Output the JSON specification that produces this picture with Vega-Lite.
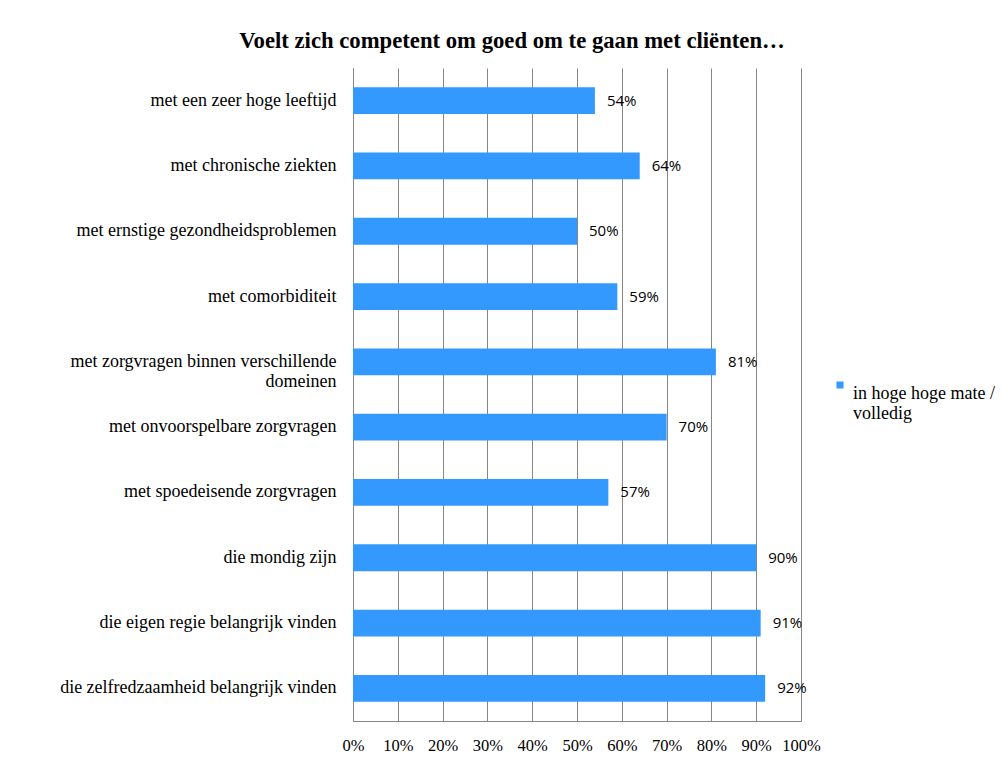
{
  "$schema": "https://vega.github.io/schema/vega-lite/v6.json",
  "autosize": {"type": "none"},
  "width": 448,
  "height": 653,
  "padding": {"left": 353, "top": 68, "right": 201, "bottom": 37},
  "background": "white",
  "title": {
    "text": "Voelt zich competent om goed om te gaan met cliënten…",
    "font": "Liberation Serif",
    "fontSize": 22.7,
    "fontWeight": "bold",
    "color": "#000000",
    "anchor": "middle",
    "frame": "group",
    "dx": -65,
    "offset": 15
  },
  "data": {
    "values": [
      {"item": "met een zeer hoge leeftijd", "pct": 0.54, "reeks": "in hoge hoge mate / volledig"},
      {"item": "met chronische ziekten", "pct": 0.64, "reeks": "in hoge hoge mate / volledig"},
      {"item": "met ernstige gezondheidsproblemen", "pct": 0.50, "reeks": "in hoge hoge mate / volledig"},
      {"item": "met comorbiditeit", "pct": 0.59, "reeks": "in hoge hoge mate / volledig"},
      {"item": "met zorgvragen binnen verschillende|domeinen", "pct": 0.81, "reeks": "in hoge hoge mate / volledig"},
      {"item": "met onvoorspelbare zorgvragen", "pct": 0.70, "reeks": "in hoge hoge mate / volledig"},
      {"item": "met spoedeisende zorgvragen", "pct": 0.57, "reeks": "in hoge hoge mate / volledig"},
      {"item": "die mondig zijn", "pct": 0.90, "reeks": "in hoge hoge mate / volledig"},
      {"item": "die eigen regie belangrijk vinden", "pct": 0.91, "reeks": "in hoge hoge mate / volledig"},
      {"item": "die zelfredzaamheid belangrijk vinden", "pct": 0.92, "reeks": "in hoge hoge mate / volledig"}
    ]
  },
  "encoding": {
    "y": {
      "field": "item",
      "type": "nominal",
      "sort": null,
      "scale": {"paddingInner": 0.59, "paddingOuter": 0.295},
      "axis": {
        "title": null,
        "ticks": false,
        "grid": false,
        "domain": true,
        "domainColor": "#868686",
        "domainWidth": 1,
        "labelFont": "Liberation Serif",
        "labelFontSize": 18,
        "labelPadding": 17,
        "labelLimit": 400,
        "labelExpr": "split(datum.label, '|')",
        "labelLineHeight": 20
      }
    },
    "x": {
      "field": "pct",
      "type": "quantitative",
      "scale": {"domain": [0, 1], "nice": false},
      "axis": {
        "title": null,
        "format": ".0%",
        "values": [0, 0.1, 0.2, 0.3, 0.4, 0.5, 0.6, 0.7, 0.8, 0.9, 1],
        "ticks": false,
        "grid": true,
        "gridColor": "#868686",
        "gridWidth": 1,
        "gridOpacity": 1,
        "domain": true,
        "domainColor": "#868686",
        "labelFont": "Liberation Serif",
        "labelFontSize": 16.5,
        "labelPadding": 16,
        "labelFlush": false
      }
    }
  },
  "layer": [
    {
      "mark": {"type": "bar", "color": "#3399FF"},
      "encoding": {
        "color": {
          "field": "reeks",
          "type": "nominal",
          "scale": {"range": ["#3399FF"]},
          "legend": {
            "title": null,
            "orient": "none",
            "legendX": 478,
            "legendY": 308,
            "padding": 0,
            "symbolType": "square",
            "symbolSize": 49,
            "symbolStrokeWidth": 0,
            "labelFont": "Liberation Serif",
            "labelFontSize": 18,
            "labelOffset": 4,
            "labelLimit": 300,
            "labelBaseline": "top",
            "labelLineHeight": 20,
            "labelExpr": "['in hoge hoge mate /', 'volledig']"
          }
        }
      }
    },
    {
      "mark": {"type": "text", "align": "left", "baseline": "middle", "dx": 12, "font": "Open Sans", "fontSize": 15, "color": "#000000"},
      "encoding": {
        "text": {"field": "pct", "type": "quantitative", "format": ".0%"}
      }
    }
  ],
  "config": {
    "view": {"stroke": null},
    "axis": {
      "labelFont": "Liberation Serif",
      "labelColor": "#000000",
      "labelFontWeight": "normal"
    },
    "legend": {
      "labelFont": "Liberation Serif",
      "labelColor": "#000000"
    }
  }
}
